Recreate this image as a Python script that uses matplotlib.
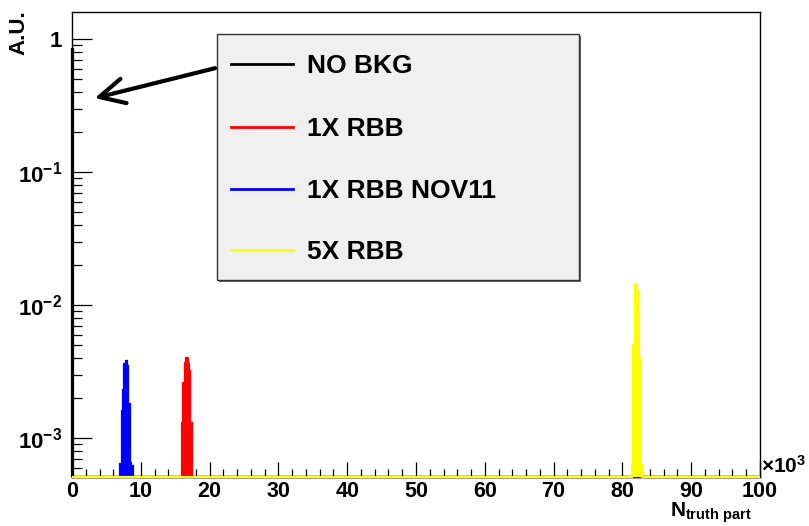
import numpy as np
import matplotlib
matplotlib.use("Agg")
import matplotlib.pyplot as plt
from matplotlib.patches import Rectangle
from matplotlib.lines import Line2D

plt.rcParams["font.family"] = ["Liberation Sans", "DejaVu Sans"]
plt.rcParams["font.weight"] = "bold"
plt.rcParams["mathtext.fontset"] = "custom"
plt.rcParams["mathtext.rm"] = "Liberation Sans:bold"
plt.rcParams["mathtext.bf"] = "Liberation Sans:bold"
plt.rcParams["mathtext.it"] = "Liberation Sans:bold"

# ---- histogram data (x in units of 10^3 truth particles, bin width 0.2) ----
BIN_WIDTH = 0.2
labels = ["NO BKG", "1X RBB", "1X RBB NOV11", "5X RBB"]
colors = ["#000000", "#ff0000", "#0000ff", "#ffff00"]

nobkg_start = 0.0
nobkg_values = [0.85]

rbb1_start = 16.0
rbb1_values = [1.3e-3, 2.6e-3, 3.7e-3, 4.0e-3, 3.6e-3, 3.2e-3, 1.3e-3]

nov11_start = 7.0
nov11_values = [6.4e-4, 1.6e-3, 2.3e-3, 3.6e-3, 3.8e-3, 3.5e-3, 1.8e-3, 6.5e-4, 6.2e-4]

rbb5_start = 81.4
rbb5_values = [6.3e-4, 5.0e-3, 1.44e-2, 1.3e-2, 9.0e-3, 4.0e-3, 6.3e-4]

x_min, x_max = 0.0, 100.0
y_min, y_max = 5.1e-4, 1.6
x_major = [0, 10, 20, 30, 40, 50, 60, 70, 80, 90, 100]
y_major = [1e-3, 1e-2, 1e-1, 1.0]
y_major_labels = [r"$10^{-3}$", r"$10^{-2}$", r"$10^{-1}$", "1"]

series = [
    (nobkg_start, nobkg_values),
    (rbb1_start, rbb1_values),
    (nov11_start, nov11_values),
    (rbb5_start, rbb5_values),
]

W, H = 809, 526
fig = plt.figure(figsize=(W / 100, H / 100), dpi=100)


def fx(px):
    return px / W


def fy(py):
    return 1 - py / H


ax = fig.add_axes([fx(72), fy(477), fx(760) - fx(72), fy(12) - fy(477)])
ax.set_yscale("log")
ax.set_xlim(x_min, x_max)
ax.set_ylim(y_min, y_max)

for (start, vals), col in zip(series, colors):
    vals = np.asarray(vals, dtype=float)
    edges = start + BIN_WIDTH * np.arange(len(vals) + 1)
    full_edges = np.concatenate([[x_min], edges, [x_max]])
    full_vals = np.concatenate([[0.0], vals, [0.0]])
    full_vals = np.clip(full_vals, y_min, None)
    ax.stairs(full_vals, full_edges, baseline=y_min, fill=True,
              facecolor=col, edgecolor=col, linewidth=1.6, clip_on=False,
              zorder=3)

# ticks ROOT-style: inside, bottom/left only
ax.set_xticks(x_major)
ax.set_xticklabels([str(v) for v in x_major])
ax.xaxis.set_minor_locator(matplotlib.ticker.MultipleLocator(2))
ax.set_yticks(y_major)
ax.set_yticklabels(y_major_labels)
ax.yaxis.set_minor_locator(matplotlib.ticker.LogLocator(base=10, subs=np.arange(2, 10)))
ax.yaxis.set_minor_formatter(matplotlib.ticker.NullFormatter())
ax.tick_params(axis="x", which="major", direction="in", length=10.5, width=0.9,
               labelsize=15.5, pad=3)
ax.tick_params(axis="x", which="minor", direction="in", length=5.5, width=0.9)
ax.tick_params(axis="y", which="major", direction="in", length=14.5, width=0.9,
               labelsize=16, pad=7)
ax.tick_params(axis="y", which="minor", direction="in", length=7.5, width=0.9)
for sp in ax.spines.values():
    sp.set_linewidth(1.0)
    sp.set_zorder(2)

# axis titles
fig.text(fx(19), fy(10), "A.U.", rotation=90, ha="center", va="top",
         fontsize=16, fontweight="bold")
fig.text(fx(752), fy(525), r"$N_{truth\ part}$", ha="right", va="bottom",
         fontsize=15)
fig.text(fx(761), fy(477), r"$\times10^{3}$", ha="left", va="bottom",
         fontsize=15)

# legend box with ROOT-like shadow
lx0, ly0, lx1, ly1 = 217, 34, 579, 280
fig.patches.append(Rectangle((fx(lx0 + 1.5), fy(ly1 + 1.5)), fx(lx1) - fx(lx0),
                             fy(ly0) - fy(ly1), transform=fig.transFigure,
                             facecolor="#666666", edgecolor="none", zorder=4))
fig.patches.append(Rectangle((fx(lx0), fy(ly1)), fx(lx1) - fx(lx0),
                             fy(ly0) - fy(ly1), transform=fig.transFigure,
                             facecolor="#f0f0f0", edgecolor="#333333",
                             linewidth=1.0, zorder=5))
row_y = [64, 126.5, 188.5, 250]
for yy, lab, col in zip(row_y, labels, colors):
    fig.lines.append(Line2D([fx(231), fx(293)], [fy(yy), fy(yy)],
                            transform=fig.transFigure, color=col,
                            linewidth=2.0, zorder=6))
    fig.text(fx(307), fy(yy + 2), lab, ha="left", va="center", fontsize=19,
             fontweight="bold", zorder=6)

# arrow pointing from the legend to the NO BKG entry at the y axis
ax.annotate("", xy=(3.3, 0.36), xytext=(20.8, 0.605), xycoords="data",
            textcoords="data",
            arrowprops=dict(arrowstyle="->,head_length=0.9,head_width=0.45",
                            color="black", lw=3, mutation_scale=20,
                            shrinkA=0, shrinkB=0),
            annotation_clip=False, zorder=7)

fig.savefig("out.png", dpi=100)
